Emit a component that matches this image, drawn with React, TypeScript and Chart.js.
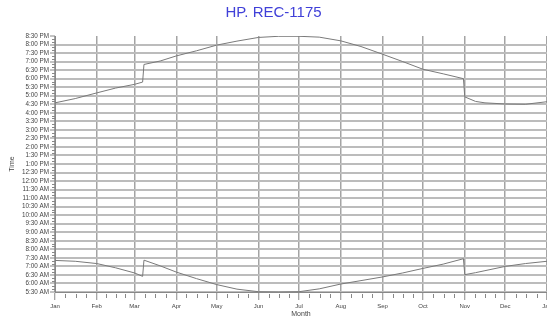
import { useEffect, useRef } from "react";
import { Chart, registerables } from "chart.js";

Chart.register(...registerables);

const chartTitle = "HP. REC-1175";
const xTitle = "Month";
const yTitle = "Time";

const monthLabels = ["Jan", "Feb", "Mar", "Apr", "May", "Jun", "Jul", "Aug", "Sep", "Oct", "Nov", "Dec", "Jan"];
const monthStarts = [0, 31, 59, 90, 120, 151, 181, 212, 243, 273, 304, 334, 365];

// day of year (0 = Jan 1)
const days = [0, 15, 31, 45, 59, 65, 66, 78, 90, 105, 120, 135, 151, 166, 181, 196, 212, 227, 243, 258, 273, 288, 303, 304, 312, 319, 334, 349, 365];
// minutes after midnight
const sunsetMinutes = [995, 1010, 1030, 1047, 1060, 1068, 1130, 1142, 1160, 1178, 1198, 1212, 1225, 1229, 1229, 1226, 1213, 1193, 1166, 1140, 1113, 1097, 1080, 1016, 1000, 995, 991, 990, 999];
const sunriseMinutes = [441, 438, 430, 415, 397, 385, 442, 422, 400, 377, 356, 340, 331, 330, 331, 341, 358, 370, 383, 397, 413, 428, 447, 391, 398, 405, 420, 430, 438];

const yMinMinutes = 330; // 5:30 AM
const yMaxMinutes = 1230; // 8:30 PM
const yStepMinutes = 30;

const FONT = "'Liberation Sans', Arial, sans-serif";

function fmtTime(m: number): string {
  const h = Math.floor(m / 60);
  const mm = Math.round(m % 60);
  const ampm = h >= 12 ? "PM" : "AM";
  let h12 = h % 12;
  if (h12 === 0) h12 = 12;
  return `${h12}:${String(mm).padStart(2, "0")} ${ampm}`;
}

const minorTicks = {
  id: "minorTicks",
  afterDraw(chart: any) {
    const { ctx, chartArea } = chart;
    const x = chart.scales.x;
    const y = chart.scales.y;
    ctx.save();
    ctx.strokeStyle = "#888";
    ctx.lineWidth = 1;
    ctx.beginPath();
    for (let i = 0; i < monthStarts.length - 1; i++) {
      const a = monthStarts[i];
      const b = monthStarts[i + 1];
      for (let q = 1; q < 4; q++) {
        const px = Math.round(x.getPixelForValue(a + ((b - a) * q) / 4)) + 0.5;
        ctx.moveTo(px, chartArea.bottom + 2);
        ctx.lineTo(px, chartArea.bottom + 6);
      }
    }
    for (let v = yMinMinutes; v <= yMaxMinutes; v += 10) {
      if (v % 30 === 0) continue;
      const py = Math.round(y.getPixelForValue(v)) + 0.5;
      ctx.moveTo(chartArea.left - 3, py);
      ctx.lineTo(chartArea.left, py);
    }
    ctx.stroke();
    ctx.restore();
  },
};

export default function App() {
  const ref = useRef<HTMLCanvasElement | null>(null);

  useEffect(() => {
    document.body.style.margin = "0";
    const canvas = ref.current;
    if (!canvas) return;
    const lineColor = "#7a7a7a";
    const chart = new Chart(canvas, {
      type: "line",
      data: {
        datasets: [
          {
            label: "Sunset",
            data: days.map((d, i) => ({ x: d, y: sunsetMinutes[i] })),
            borderColor: lineColor,
            borderWidth: 1,
            pointRadius: 0,
            tension: 0,
          },
          {
            label: "Sunrise",
            data: days.map((d, i) => ({ x: d, y: sunriseMinutes[i] })),
            borderColor: lineColor,
            borderWidth: 1,
            pointRadius: 0,
            tension: 0,
          },
        ],
      },
      options: {
        responsive: false,
        animation: false,
        devicePixelRatio: 1,
        layout: { padding: 0 },
        plugins: {
          legend: { display: false },
          tooltip: { enabled: false },
          title: {
            display: true,
            text: chartTitle,
            color: "#4040d8",
            font: { family: FONT, size: 15, weight: "normal" },
            padding: { top: 4, bottom: 14 },
          },
        },
        scales: {
          x: {
            type: "linear",
            min: 0,
            max: 365,
            afterBuildTicks: (s: any) => {
              s.ticks = monthStarts.map((v) => ({ value: v }));
            },
            afterFit: (s: any) => {
              s.height = 28;
              s.paddingRight = 0;
              s.paddingLeft = 0;
            },
            ticks: {
              autoSkip: false,
              maxRotation: 0,
              padding: 3,
              color: "#444",
              font: { family: FONT, size: 6 },
              callback: (_v: any, i: number) => monthLabels[i],
            },
            grid: {
              color: "#a4a4a4",
              lineWidth: 1.5,
              tickLength: 8,
              tickColor: "#888",
              tickWidth: 1,
            },
            border: { color: "#888", width: 1 },
            title: {
              display: true,
              text: xTitle,
              color: "#444",
              font: { family: FONT, size: 7 },
              padding: { top: 0, bottom: 2 },
            },
          },
          y: {
            type: "linear",
            min: yMinMinutes,
            max: yMaxMinutes,
            afterFit: (s: any) => {
              s.width = 55;
            },
            ticks: {
              stepSize: yStepMinutes,
              autoSkip: false,
              padding: 1,
              color: "#444",
              font: { family: FONT, size: 6.3 },
              callback: (v: any) => fmtTime(Number(v)),
            },
            grid: {
              color: (c: any) => (c.tick && c.tick.value === yMaxMinutes ? "rgba(0,0,0,0)" : "#bcbcbc"),
              lineWidth: 2,
              tickLength: 5,
              tickColor: "#888",
              tickWidth: 1,
            },
            border: { color: "#888", width: 1 },
            title: {
              display: true,
              text: yTitle,
              color: "#444",
              font: { family: FONT, size: 7 },
              padding: { top: 8, bottom: 0 },
            },
          },
        },
      },
      plugins: [minorTicks],
    } as any);
    return () => chart.destroy();
  }, []);

  return (
    <div style={{ width: 547, height: 320 }}>
      <canvas ref={ref} width={547} height={320} style={{ display: "block" }} />
    </div>
  );
}
